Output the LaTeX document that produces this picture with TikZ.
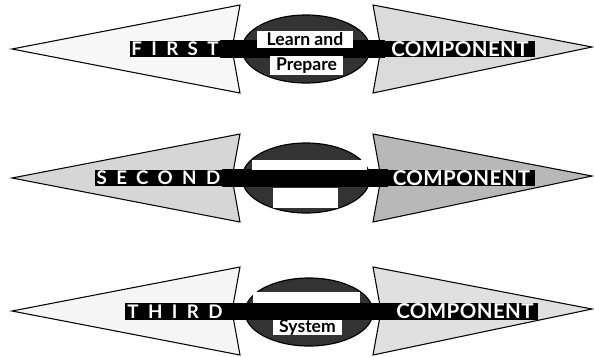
\documentclass[tikz,border=0pt]{standalone}
\usepackage{fontspec}
\setmainfont{Lato}
\newfontfamily\spacedfont{Lato}[LetterSpace=50]
\newfontfamily\compfont{Lato}[LetterSpace=2]
\usetikzlibrary{positioning}

\begin{document}
\begin{tikzpicture}[x=0.03cm, y=-0.03cm,
    wing/.style={draw, line width=0.9pt, line join=miter},
    hub/.style={draw, line width=1pt, fill=black!80},
    tag/.style={fill=black, text=white, inner sep=0pt, minimum height=0.5cm,
      font=\compfont\bfseries\fontsize{17.5}{17}\selectfont},
    ordinal/.style={tag, font=\spacedfont\bfseries\fontsize{16}{16}\selectfont},
    gap/.style={fill=white, inner sep=0pt, text=black,
      font=\bfseries\fontsize{15}{15}\selectfont}]
    \useasboundingbox (0,0) rectangle (594,356);

    % arrow wings and hubs
    \foreach \c/\lf/\rf in {49/3/14, 178/16/28, 311/4/12} {
      \draw[wing, fill=black!\lf] (12,\c) -- (240,{\c-44}) -- (232,\c)
        -- (240,{\c+44}) -- cycle;
      \draw[wing, fill=black!\rf] (373,{\c-44}) -- (592,{\c-2})
        -- (373,{\c+44}) -- (381,\c) -- cycle;
    }
    \draw[hub] (306,49) ellipse [x radius=64, y radius=34];
    \draw[hub] (306,178) ellipse [x radius=64, y radius=35];
    \draw[hub] (309,312) ellipse [x radius=64, y radius=34];

    % first row
    \node[ordinal, minimum width=2.7cm] (first) at (175,49) {FIRST};
    \node[tag, minimum width=4.5cm] (comp1) at (460,49) {COMPONENT};
    \fill (first.north east) rectangle (comp1.south west);
    \node[gap, minimum width=2.88cm, minimum height=0.5cm] (learn) at (305,39.5) {Learn and};
    \node[gap, minimum width=2.19cm, minimum height=0.56cm] (prepare) at (306.5,65.5) {Prepare};

    % second row
    \node[ordinal, minimum width=3.81cm] (second) at (158.5,178) {SECOND};
    \node[tag, minimum width=4.41cm] (comp2) at (461.5,178) {COMPONENT};
    \fill (second.north east) rectangle (comp2.south west);
    \node[gap, minimum width=3.45cm, minimum height=0.3cm] (blank2a) at (309.5,165) {};
    \node[gap, minimum width=1.95cm, minimum height=0.6cm] (blank2b) at (305.5,197.5) {};

    % third row
    \node[ordinal, minimum width=3cm] (third) at (175,311.5) {THIRD};
    \node[tag, minimum width=4.38cm] (comp3) at (465,311.5) {COMPONENT};
    \fill (third.north east) rectangle (comp3.south west);
    \node[gap, minimum width=3.21cm, minimum height=0.33cm] (blank3) at (306.5,297.5) {};
    \node[gap, minimum width=2.07cm, minimum height=0.45cm] (system) at (307.5,327.5) {System};
\end{tikzpicture}
\end{document}
